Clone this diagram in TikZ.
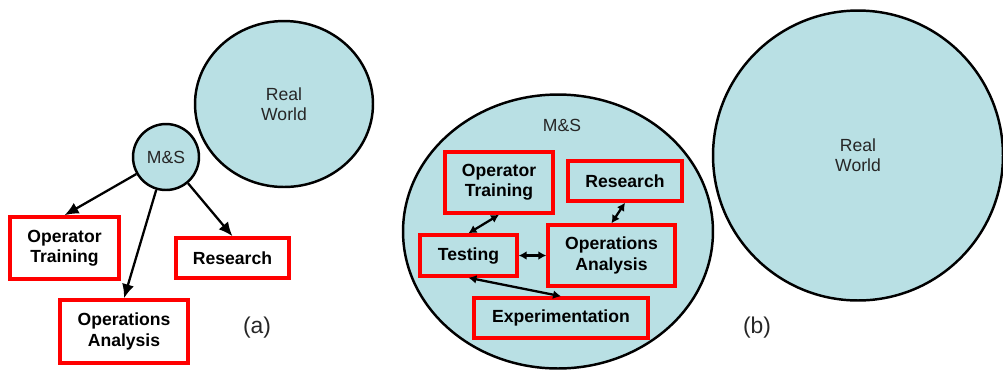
\documentclass[tikz,border=0pt]{standalone}
\usepackage{fontspec}
\setmainfont{Liberation Sans}
\usetikzlibrary{arrows.meta,shapes.geometric}
\definecolor{mscyan}{RGB}{185,224,228}

\begin{document}
\begin{tikzpicture}[
        x=0.02cm, y=-0.02cm,
        blob/.style={ellipse,draw=black,line width=1.4pt,fill=mscyan,inner sep=0pt,
            font=\fontsize{10}{11.5}\selectfont,align=center,text=black!85},
        box/.style={draw=red,line width=2pt,inner sep=0pt,align=center,
            font=\bfseries\fontsize{10}{11.5}\selectfont},
        tag/.style={font=\fontsize{13}{15}\selectfont,text=black!85},
        edge/.style={line width=1.3pt,-{Latex[length=8pt,width=7pt]}},
        both/.style={line width=1.3pt,{Latex[length=4.5pt,width=5pt]}-{Latex[length=4.5pt,width=5pt]}}
        ]
        \useasboundingbox (0,0) rectangle (1003,370);

        \node[blob, minimum width=3.56cm, minimum height=3.32cm] (rw-a) at (284,104) {Real\\World};
        \node[blob, circle, minimum size=1.32cm] (ms-a) at (166,157) {M\&S};

        \node[box, minimum width=2.18cm, minimum height=1.24cm] (ot-a) at (64.5,248) {Operator\\Training};
        \node[box, minimum width=2.26cm, minimum height=0.8cm] (re-a) at (232.5,258) {Research};
        \node[box, minimum width=2.56cm, minimum height=1.26cm] (oa-a) at (124,331.5) {Operations\\Analysis};
        \node[tag] (lbl-a) at (257,328) {(a)};

        \draw[edge] (ms-a) -- (ot-a.north);
        \draw[edge] (ms-a) -- (oa-a.north);
        \draw[edge] (ms-a) -- (re-a.north);

        \node[blob, minimum width=6.2cm, minimum height=5.48cm] (ms-b) at (558,231.5) {};
        \node[font=\fontsize{10}{11.5}\selectfont,text=black!85] (mst-b) at (562,125) {M\&S};
        \node[blob, circle, minimum size=5.8cm] (rw-b) at (858,155.5) {Real\\World};

        \node[box, minimum width=2.16cm, minimum height=1.22cm] (ot-b) at (499,182.5) {Operator\\Training};
        \node[box, minimum width=2.28cm, minimum height=0.8cm] (re-b) at (625,181) {Research};
        \node[box, minimum width=1.94cm, minimum height=0.82cm] (te-b) at (468.5,255.5) {Testing};
        \node[box, minimum width=2.54cm, minimum height=1.22cm] (oa-b) at (611.5,255.5) {Operations\\Analysis};
        \node[box, minimum width=3.48cm, minimum height=0.8cm] (ex-b) at (561,318) {Experimentation};
        \node[tag] (lbl-b) at (757,328) {(b)};

        \draw[both] (ot-b.south) -- (te-b.north);
        \draw[both] (re-b.south) -- (oa-b.north);
        \draw[both] (te-b.east) -- (oa-b.west);
        \draw[both] (te-b.south) -- (ex-b.north);
    \end{tikzpicture}
\end{document}
